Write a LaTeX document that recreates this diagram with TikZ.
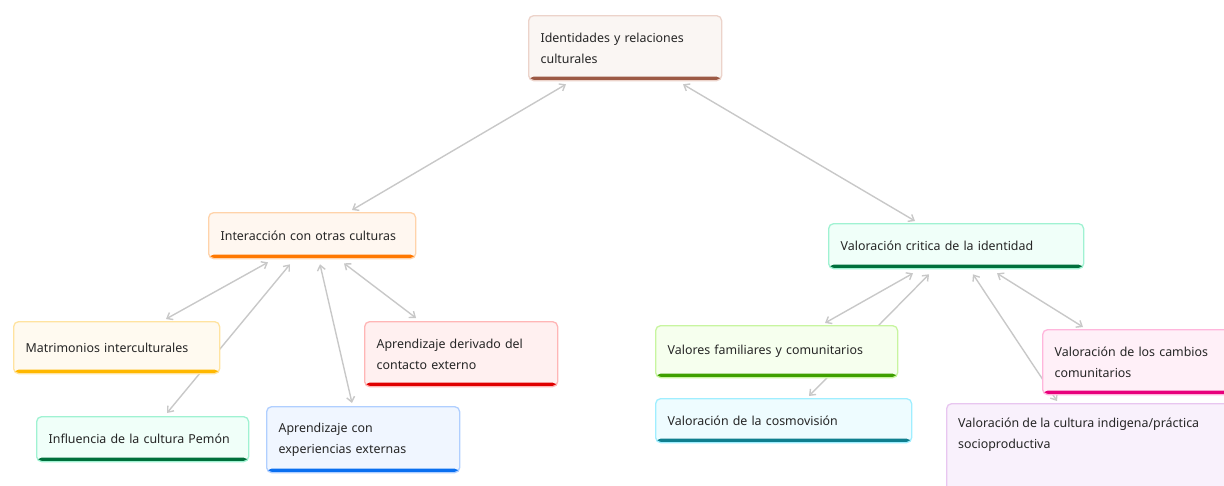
\documentclass[tikz,border=0pt]{standalone}
\usepackage{fontspec}
\setmainfont{Noto Sans}
\usetikzlibrary{arrows.meta,calc}
\pgfdeclarelayer{bg}
\pgfsetlayers{bg,main}
\definecolor{lineGray}{HTML}{C8C8C8}
\definecolor{txt}{HTML}{262626}
\definecolor{rootF}{HTML}{FAF6F3}\definecolor{rootD}{HTML}{ECD3CA}\definecolor{rootB}{HTML}{9C5A45}
\definecolor{intF}{HTML}{FFF7F0}\definecolor{intD}{HTML}{FFD3AA}\definecolor{intB}{HTML}{FF7800}
\definecolor{grnF}{HTML}{F0FFF9}\definecolor{grnD}{HTML}{A0F2D2}\definecolor{grnB}{HTML}{00703C}
\definecolor{matF}{HTML}{FFFAF0}\definecolor{matD}{HTML}{FFE3A0}\definecolor{matB}{HTML}{FFB800}
\definecolor{bluF}{HTML}{F0F6FF}\definecolor{bluD}{HTML}{B0CFFF}\definecolor{bluB}{HTML}{0A6FF0}
\definecolor{redF}{HTML}{FFF0F0}\definecolor{redD}{HTML}{FFB6B6}\definecolor{redB}{HTML}{E00000}
\definecolor{limF}{HTML}{F6FFEE}\definecolor{limD}{HTML}{C8F5A0}\definecolor{limB}{HTML}{3FA000}
\definecolor{cyaF}{HTML}{EEFCFF}\definecolor{cyaD}{HTML}{A0EEFF}\definecolor{cyaB}{HTML}{0F7F8F}
\definecolor{pinF}{HTML}{FFF0F8}\definecolor{pinD}{HTML}{FFB6DC}\definecolor{pinB}{HTML}{E8007C}
\definecolor{vioF}{HTML}{F9F1FC}\definecolor{vioD}{HTML}{E8C6F0}
\tikzset{
  cbox/.style n args={3}{draw=#2, fill=#1, line width=1.3pt, rounded corners=5pt,
    anchor=north west, inner xsep=12pt, inner ysep=0pt, align=left, text=txt,
    font=\fontsize{12.4}{20.5}\selectfont,
    execute at begin node={\hyphenpenalty=10000},
    path picture={\fill[#3] ([yshift=4pt]path picture bounding box.south west) rectangle (path picture bounding box.south east);}},
  conn/.style={draw=lineGray, line width=1.4pt,
    {Straight Barb[length=5pt,width=8pt]}-{Straight Barb[length=5pt,width=8pt]}}
}
\begin{document}
\begin{tikzpicture}[x=1pt,y=-1pt]
\useasboundingbox (0,0) rectangle (1224,485);
\node[cbox={rootF}{rootD}{rootB}, minimum width=193pt, minimum height=65pt, text width=169pt] (root) at (528,15) {Identidades y relaciones\\culturales};
\node[cbox={intF}{intD}{intB}, minimum width=207pt, minimum height=46pt, text width=183pt] (inter) at (208,212) {Interacción con otras culturas};
\node[cbox={grnF}{grnD}{grnB}, minimum width=255pt, minimum height=45pt, text width=231pt] (crit) at (828,223) {Valoración critica de la identidad};
\node[cbox={matF}{matD}{matB}, minimum width=206pt, minimum height=52pt, text width=182pt] (matri) at (13,321) {Matrimonios interculturales};
\node[cbox={grnF}{grnD}{grnB}, minimum width=212pt, minimum height=45pt, text width=188pt] (infl) at (36,416) {Influencia de la cultura Pemón};
\node[cbox={bluF}{bluD}{bluB}, minimum width=193pt, minimum height=66pt, text width=169pt] (apcon) at (266,406) {Aprendizaje con\\experiencias externas};
\node[cbox={redF}{redD}{redB}, minimum width=193pt, minimum height=65pt, text width=169pt] (apder) at (364,321) {Aprendizaje derivado del\\contacto externo};
\node[cbox={limF}{limD}{limB}, minimum width=242pt, minimum height=52pt, text width=218pt] (valfam) at (655,325) {Valores familiares y comunitarios};
\node[cbox={cyaF}{cyaD}{cyaB}, minimum width=256pt, minimum height=44pt, text width=232pt] (cosmo) at (655,398) {Valoración de la cosmovisión};
\node[cbox={pinF}{pinD}{pinB}, minimum width=190pt, minimum height=65pt, text width=166pt] (cambios) at (1042,329) {Valoración de los cambios\\comunitarios};
\node[draw=vioD, fill=vioF, line width=1.3pt, rounded corners=5pt, anchor=north west, minimum width=290pt, minimum height=100pt] (vci) at (946,403) {};
\node[anchor=north west, inner sep=0pt, align=left, text=txt, font=\fontsize{12.4}{20.5}\selectfont] (vcit) at ($(vci.north west)+(12,15)$) {Valoración de la cultura indigena/práctica\\socioproductiva};
\begin{pgfonlayer}{bg}
\draw[conn] ($(root.south west)+(38,3)$) -- ($(inter.north west)+(144,-2)$);
\draw[conn] ($(root.south west)+(155,3)$) -- ($(crit.north west)+(87,-2)$);
\draw[conn] ($(inter.south west)+(60,3)$) -- ($(matri.north west)+(153,-2)$);
\draw[conn] ($(inter.south west)+(82,5)$) -- ($(infl.north west)+(131,-3)$);
\draw[conn] ($(inter.south west)+(112,5)$) -- ($(apcon.north west)+(86,-3)$);
\draw[conn] ($(inter.south west)+(136,4)$) -- ($(apder.north west)+(52,-3)$);
\draw[conn] ($(crit.south west)+(85,4)$) -- ($(valfam.north west)+(170,-2)$);
\draw[conn] ($(crit.south west)+(101,5)$) -- ($(cosmo.north west)+(154,-2)$);
\draw[conn] ($(crit.south west)+(145,5)$) -- ($(vci.north west)+(111,-2)$);
\draw[conn] ($(crit.south west)+(169,4)$) -- ($(cambios.north west)+(41,-2)$);
\end{pgfonlayer}
\end{tikzpicture}
\end{document}
